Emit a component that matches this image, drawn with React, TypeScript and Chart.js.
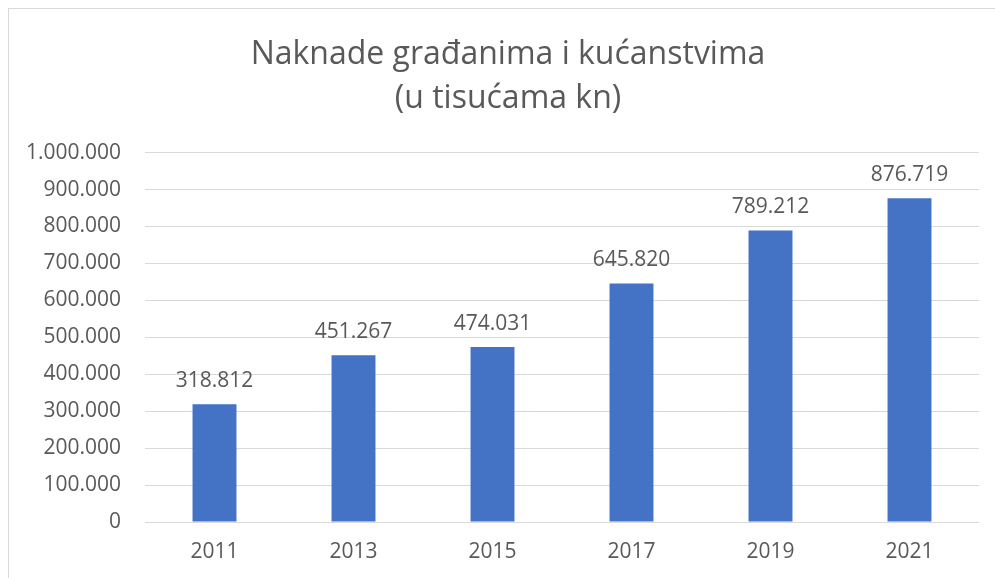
import React, { useEffect, useRef } from "react";
import { Chart, registerables } from "chart.js";

Chart.register(...registerables);

const years = ["2011", "2013", "2015", "2017", "2019", "2021"];
const values = [318812, 451267, 474031, 645820, 789212, 876719];
const titleLines = ["Naknade građanima i kućanstvima", "(u tisućama kn)"];
const yMin = 0;
const yMax = 1000000;
const yStep = 100000;

const FONT = "'Open Sans', sans-serif";
const TEXT = "#595959";

function fmt(v: number): string {
  return String(Math.round(v)).replace(/\B(?=(\d{3})+(?!\d))/g, ".");
}

const labelPlugin = {
  id: "barLabels",
  afterLayout(chart: any) {
    // centre the title over the whole (partly cropped) chart object
    if (chart.titleBlock) chart.titleBlock.left = 28;
  },
  afterDatasetsDraw(chart: any) {
    const ctx = chart.ctx;
    const meta = chart.getDatasetMeta(0);
    ctx.save();
    ctx.font = `21px ${FONT}`;
    ctx.fillStyle = TEXT;
    ctx.textAlign = "center";
    ctx.textBaseline = "alphabetic";
    meta.data.forEach((bar: any, i: number) => {
      ctx.fillText(fmt(values[i]), bar.x, bar.y - 17);
    });
    ctx.restore();
  },
};

export default function App() {
  const ref = useRef<HTMLCanvasElement | null>(null);
  useEffect(() => {
    if (!ref.current) return;
    const chart = new Chart(ref.current, {
      type: "bar",
      data: {
        labels: years,
        datasets: [
          {
            data: values,
            backgroundColor: "#4472C4",
            barPercentage: 0.316,
            categoryPercentage: 1,
          },
        ],
      },
      plugins: [labelPlugin],
      options: {
        animation: false,
        responsive: true,
        maintainAspectRatio: false,
        layout: { padding: { left: 0, right: 28, top: 0, bottom: 0 } },
        plugins: {
          legend: { display: false },
          tooltip: { enabled: false },
          title: {
            display: true,
            text: titleLines,
            color: TEXT,
            font: { family: FONT, size: 32, weight: "normal", lineHeight: 1.4 },
            padding: { top: 23, bottom: 31 },
          },
        },
        scales: {
          x: {
            grid: { display: false, drawTicks: false },
            border: { display: false },
            ticks: {
              color: TEXT,
              font: { family: FONT, size: 21 },
              padding: 17,
              maxRotation: 0,
            },
            afterFit: (axis: any) => {
              axis.height = 56;
            },
          },
          y: {
            min: yMin,
            max: yMax,
            grid: { color: "#d9d9d9", lineWidth: 1, drawTicks: false },
            border: { display: false },
            ticks: {
              stepSize: yStep,
              color: TEXT,
              font: { family: FONT, size: 21 },
              padding: 24,
              callback: (v: any) => fmt(Number(v)),
            },
            afterFit: (axis: any) => {
              axis.width = 136;
            },
          },
        },
      },
    });
    return () => chart.destroy();
  }, []);

  return (
    <div
      style={{
        position: "fixed",
        left: 8,
        top: 8,
        width: 1010,
        height: 600,
        border: "1px solid #d9d9d9",
        boxSizing: "border-box",
        background: "#fff",
      }}
    >
      <div style={{ position: "absolute", left: 0, top: 0, width: 998, height: 569 }}>
        <canvas ref={ref} />
      </div>
    </div>
  );
}
